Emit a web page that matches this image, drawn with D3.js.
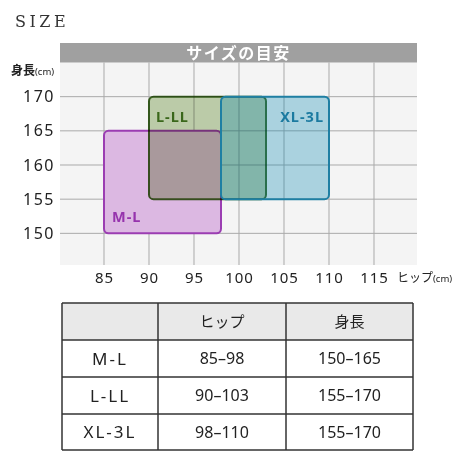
<!DOCTYPE html>
<html><head><meta charset="utf-8">
<script src="https://cdn.jsdelivr.net/npm/d3@7"></script>
<style>
html,body{margin:0;padding:0;background:#fff;}
svg{display:block;}
text{font-family:"Noto Sans","Noto Sans CJK JP",sans-serif;}
</style></head>
<body>
<script>
const sizes = ["M-L", "L-LL", "XL-3L"];
const hipMin = [85, 90, 98];
const hipMax = [98, 103, 110];
const heightMin = [150, 155, 155];
const heightMax = [165, 170, 170];
const xTicks = [85, 90, 95, 100, 105, 110, 115];
const yTicks = [150, 155, 160, 165, 170];
const chartTitle = "SIZE";
const bandTitle = "サイズの目安";
const tableHeaders = ["", "ヒップ", "身長"];

const fills = ["#dcb8e2", "#c4d4b0", "#0083ae"];
const fillOpacity = [1, 1, 0.3];
const blend = ["normal", "multiply", "normal"];
const strokes = ["#9b3db2", "#3f6b22", "#1f7fa3"];
const labelColors = ["#9633ad", "#3a671b", "#1b7aa0"];

const W = 460, H = 460;
const svg = d3.select("body").append("svg").attr("width", W).attr("height", H);

const x = d3.scaleLinear().domain([80, 120]).range([59, 419]);
const y = d3.scaleLinear().domain([145, 175]).range([267.5, 62.5]);
const pLeft = 60, pRight = 417, pTop = y(175), pBottom = 265;

// title
svg.append("text").attr("x", 15).attr("y", 27)
  .style("font-family", "'DejaVu Serif','Liberation Serif',serif")
  .style("font-size", "16px").style("letter-spacing", "3.5px").attr("fill", "#333")
  .text(chartTitle);

// plot bg
svg.append("rect").attr("x", pLeft).attr("y", pTop).attr("width", pRight - pLeft).attr("height", pBottom - pTop).attr("fill", "#f4f4f4");

// grid
const grid = svg.append("g").attr("stroke", "#a9a9a9").attr("stroke-width", 1);
grid.selectAll("line.v").data(xTicks).join("line").attr("class", "v")
  .attr("x1", d => x(d)).attr("x2", d => x(d)).attr("y1", pTop).attr("y2", pBottom);
grid.selectAll("line.h").data(yTicks).join("line").attr("class", "h")
  .attr("x1", pLeft).attr("x2", pRight).attr("y1", d => y(d)).attr("y2", d => y(d));

// header band
svg.append("rect").attr("x", pLeft).attr("y", 43).attr("width", pRight - pLeft).attr("height", pTop - 43).attr("fill", "#a0a0a0");
svg.append("text").attr("x", (pLeft + pRight) / 2).attr("y", 59).attr("text-anchor", "middle")
  .attr("fill", "#fff").style("font-weight", "bold").style("font-size", "16px").style("letter-spacing", "1.5px")
  .text(bandTitle);

// boxes
const idx = d3.range(sizes.length);
const boxes = svg.append("g").attr("stroke-width", 2);
idx.forEach(i => {
  boxes.append("rect")
    .attr("x", x(hipMin[i])).attr("y", y(heightMax[i]))
    .attr("width", x(hipMax[i]) - x(hipMin[i]))
    .attr("height", y(heightMin[i]) - y(heightMax[i]))
    .attr("rx", 4.5).attr("ry", 4.5)
    .attr("fill", fills[i]).attr("fill-opacity", fillOpacity[i])
    .attr("stroke", strokes[i])
    .style("mix-blend-mode", blend[i]);
});

// box labels
const lab = svg.append("g").style("font-family", "'DejaVu Sans',sans-serif").style("font-weight", "bold")
  .style("font-size", "14.5px").style("letter-spacing", "1px");
lab.append("text").attr("x", x(hipMin[0]) + 8).attr("y", y(heightMin[0]) - 11)
  .attr("fill", labelColors[0]).text(sizes[0]);
lab.append("text").attr("x", x(hipMin[1]) + 7).attr("y", y(heightMax[1]) + 25)
  .attr("fill", labelColors[1]).text(sizes[1]);
lab.append("text").attr("x", x(hipMax[2]) - 5).attr("y", y(heightMax[2]) + 25).attr("text-anchor", "end")
  .attr("fill", labelColors[2]).text(sizes[2]);

// y axis
const yAxis = svg.append("g").attr("transform", `translate(${pLeft - 5},0)`)
  .call(d3.axisLeft(y).tickValues(yTicks).tickSize(0).tickPadding(0));
yAxis.select(".domain").remove();
yAxis.selectAll("text").style("font-size", "16px").style("letter-spacing", "1.5px")
  .style("font-family", "'Noto Sans',sans-serif").attr("fill", "#222");

// x axis
const xAxis = svg.append("g").attr("transform", `translate(0,${pBottom + 5})`)
  .call(d3.axisBottom(x).tickValues(xTicks).tickSize(0).tickPadding(2));
xAxis.select(".domain").remove();
xAxis.selectAll("text").style("font-size", "15px").style("letter-spacing", "1px")
  .style("font-family", "'Noto Sans',sans-serif").attr("fill", "#222");

// axis titles
const yt = svg.append("text").attr("x", 11).attr("y", 75).attr("fill", "#222");
yt.append("tspan").style("font-size", "12px").style("font-weight", "bold").text("身長");
yt.append("tspan").style("font-size", "9.5px").text("(cm)");
const xt = svg.append("text").attr("x", 397).attr("y", 282).attr("fill", "#222");
xt.append("tspan").style("font-size", "12px").text("ヒップ");
xt.append("tspan").style("font-size", "9.5px").text("(cm)");

// table
const colX = [62, 158, 286, 413];
const rowY = [303, 340, 377, 414, 450];
const tbl = svg.append("g");
tbl.append("rect").attr("x", colX[0]).attr("y", rowY[0]).attr("width", colX[3] - colX[0]).attr("height", rowY[1] - rowY[0]).attr("fill", "#e9e9e9");
const lineG = tbl.append("g").attr("stroke", "#333").attr("stroke-width", 1.5);
rowY.forEach(v => lineG.append("line").attr("x1", colX[0]).attr("x2", colX[3]).attr("y1", v).attr("y2", v));
colX.forEach(v => lineG.append("line").attr("x1", v).attr("x2", v).attr("y1", rowY[0]).attr("y2", rowY[4]));

const cx = i => (colX[i] + colX[i + 1]) / 2;
const cy = r => (rowY[r] + rowY[r + 1]) / 2;
tableHeaders.forEach((h, i) => {
  if (h) tbl.append("text").attr("x", cx(i)).attr("y", cy(0)).attr("dy", "0.36em").attr("text-anchor", "middle")
    .style("font-size", "15px").attr("fill", "#222").text(h);
});
idx.forEach(i => {
  const r = i + 1;
  tbl.append("text").attr("x", cx(0)).attr("y", cy(r)).attr("dy", "0.36em").attr("text-anchor", "middle")
    .style("font-size", "17px").style("letter-spacing", "2px").attr("fill", "#222").text(sizes[i]);
  tbl.append("text").attr("x", cx(1)).attr("y", cy(r)).attr("dy", "0.36em").attr("text-anchor", "middle")
    .style("font-size", "16px").attr("fill", "#222").text(`${hipMin[i]}–${hipMax[i]}`);
  tbl.append("text").attr("x", cx(2)).attr("y", cy(r)).attr("dy", "0.36em").attr("text-anchor", "middle")
    .style("font-size", "16px").attr("fill", "#222").text(`${heightMin[i]}–${heightMax[i]}`);
});
</script>
</body></html>
